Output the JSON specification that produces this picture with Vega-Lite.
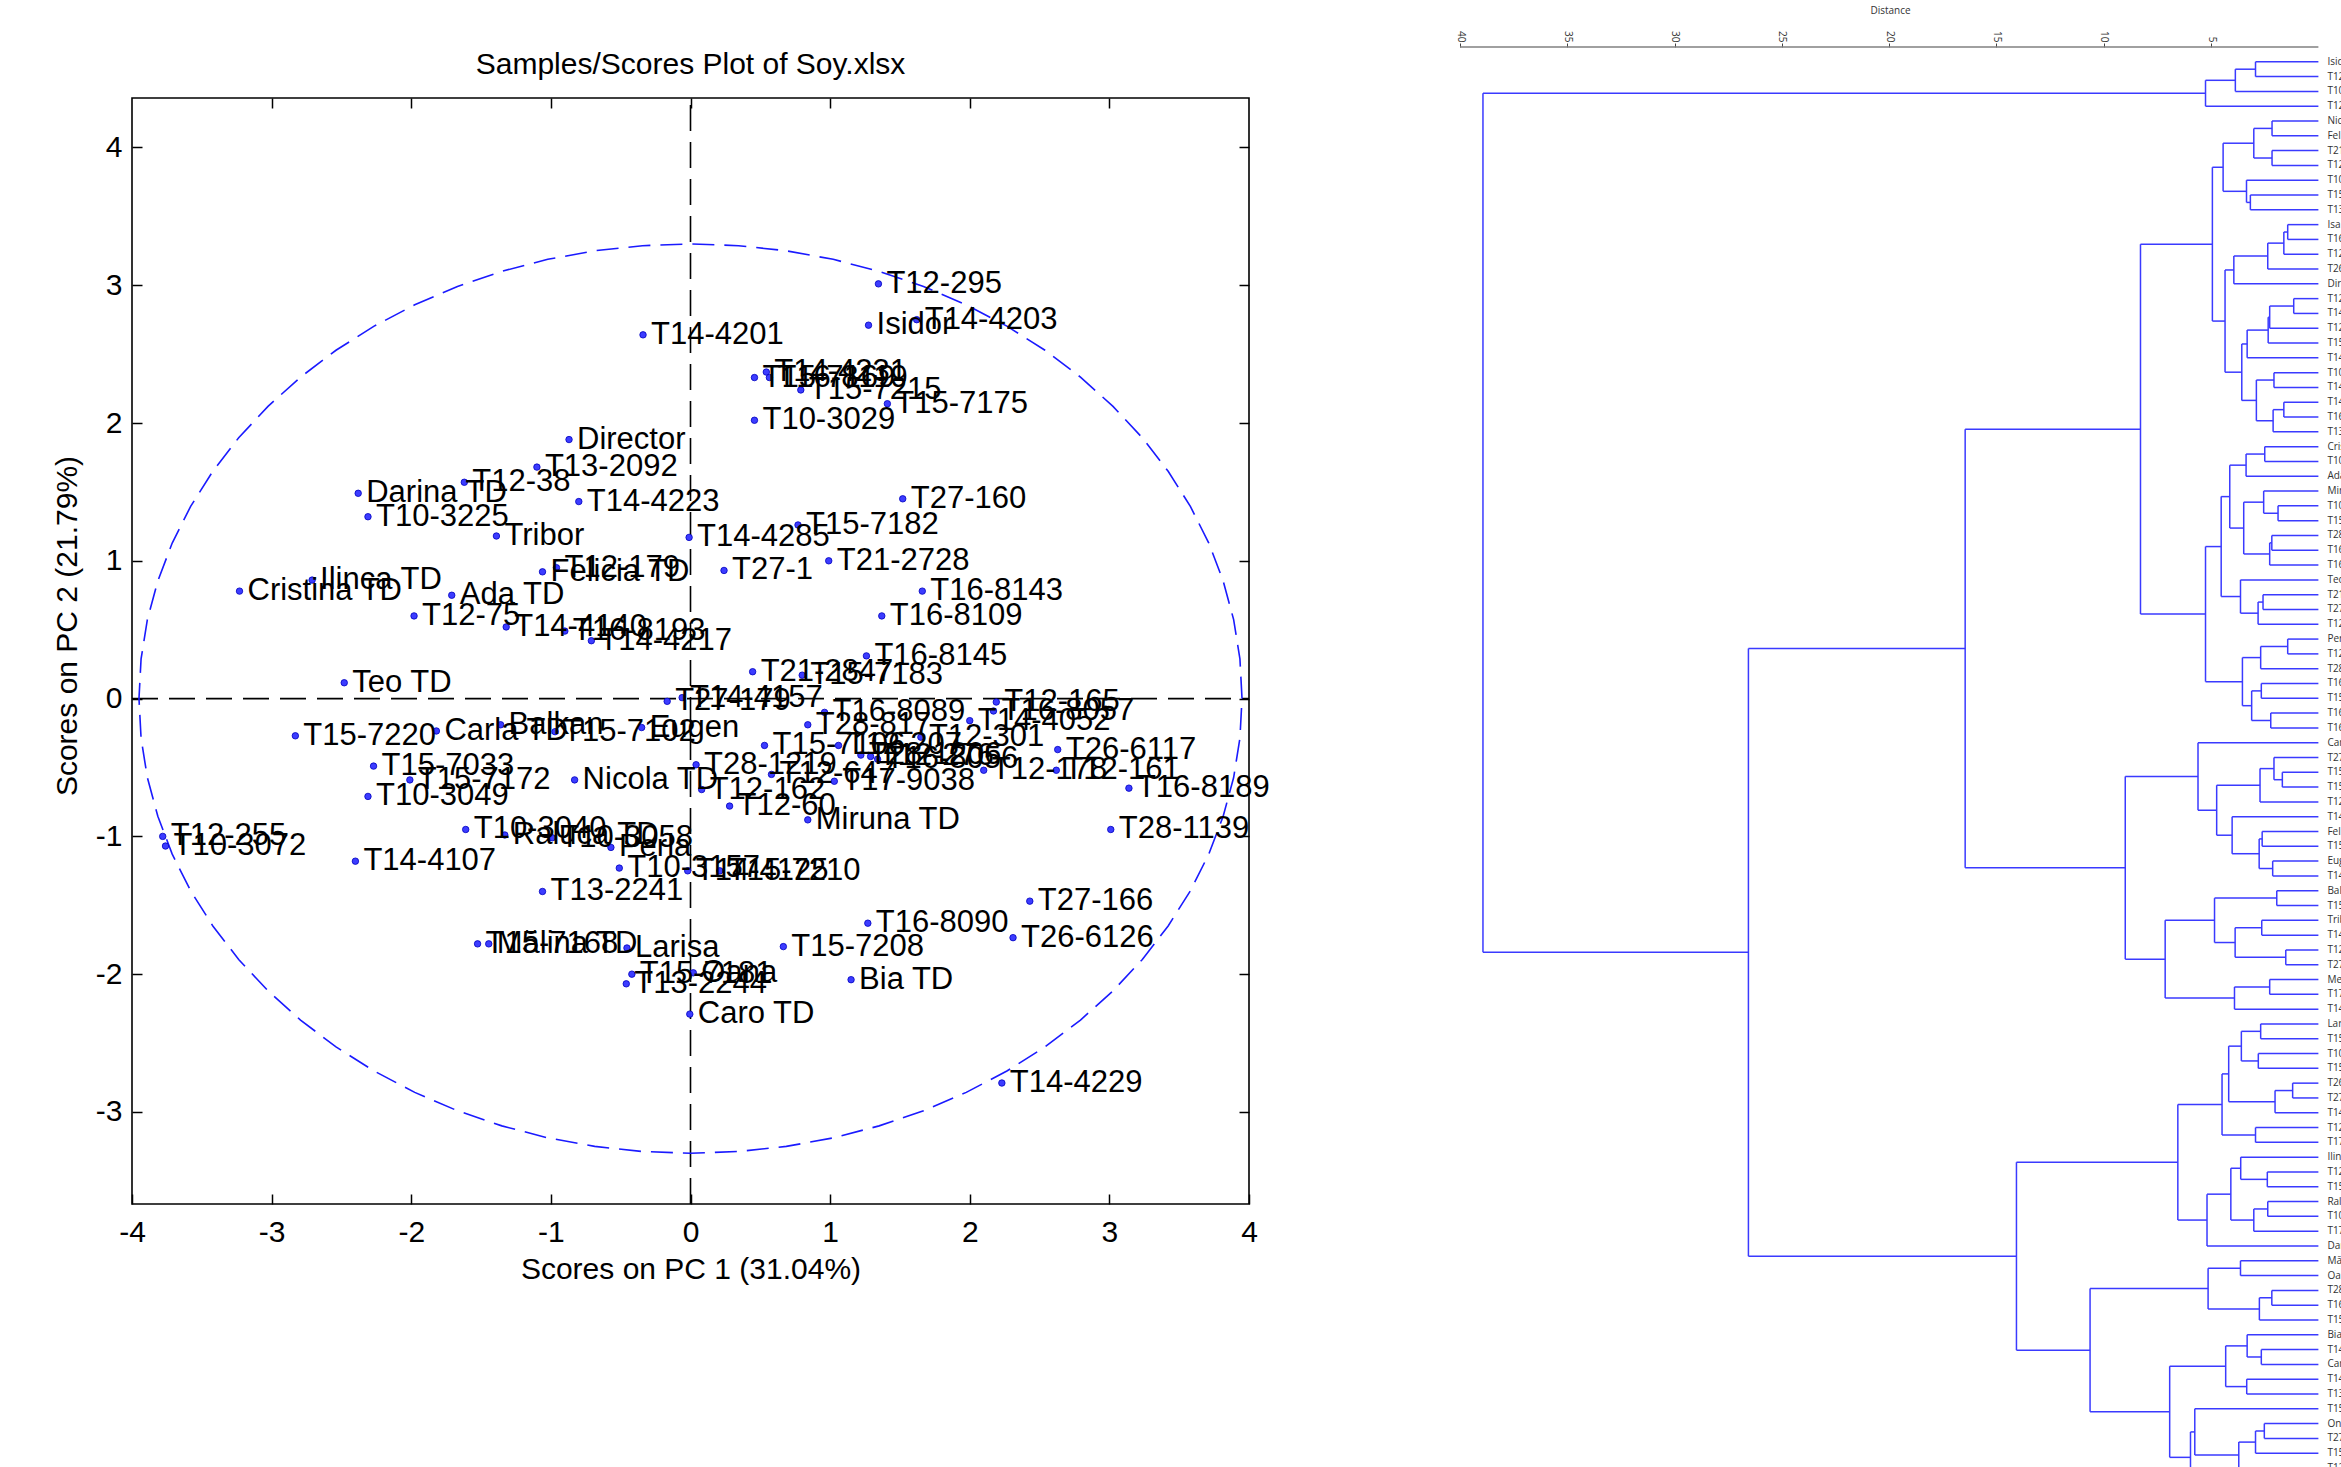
{
"$schema": "https://vega.github.io/schema/vega-lite/v6.json",
"padding": {"left": 52, "top": 5, "right": 0, "bottom": 0},
"bounds": "flush",
"spacing": 211,
"config": {"view": {"stroke": null}, "font": "Liberation Sans"},
"datasets": {
"pts": [
{"n":"T12-295","x":1.346,"y":3.01},{"n":"T14-4203","x":1.62,"y":2.75},{"n":"Isidor","x":1.275,"y":2.71},{"n":"T14-4201","x":-0.34,"y":2.64},
{"n":"T15-7169","x":0.458,"y":2.33},{"n":"T14-4231","x":0.543,"y":2.37},{"n":"T16-8119","x":0.565,"y":2.33},{"n":"T15-7215","x":0.79,"y":2.24},
{"n":"T15-7175","x":1.41,"y":2.14},{"n":"T10-3029","x":0.458,"y":2.02},{"n":"Director","x":-0.87,"y":1.88},{"n":"T12-38","x":-1.62,"y":1.57},
{"n":"T13-2092","x":-1.1,"y":1.68},{"n":"Darina TD","x":-2.38,"y":1.49},{"n":"T14-4223","x":-0.8,"y":1.43},{"n":"T10-3225","x":-2.31,"y":1.32},
{"n":"Tribor","x":-1.39,"y":1.18},{"n":"Ilinca TD","x":-2.71,"y":0.86},{"n":"Cristina TD","x":-3.23,"y":0.78},{"n":"Felicia TD","x":-1.06,"y":0.92},
{"n":"T12-179","x":-0.96,"y":0.95},{"n":"Ada TD","x":-1.71,"y":0.75},{"n":"T12-75","x":-1.98,"y":0.6},{"n":"T14-4140","x":-1.32,"y":0.52},
{"n":"T16-8193","x":-0.9,"y":0.49},{"n":"T14-4217","x":-0.71,"y":0.42},{"n":"Teo TD","x":-2.48,"y":0.115},{"n":"T27-160","x":1.52,"y":1.45},
{"n":"T15-7182","x":0.77,"y":1.26},{"n":"T14-4285","x":-0.01,"y":1.17},{"n":"T21-2728","x":0.99,"y":1.0},{"n":"T27-1","x":0.24,"y":0.93},
{"n":"T16-8143","x":1.66,"y":0.78},{"n":"T16-8109","x":1.37,"y":0.6},{"n":"T16-8145","x":1.26,"y":0.31},{"n":"T21-2847","x":0.445,"y":0.195},
{"n":"T15-7183","x":0.8,"y":0.17},{"n":"T27-179","x":-0.167,"y":-0.02},{"n":"T14-4157","x":-0.06,"y":0.007},{"n":"Eugen","x":-0.35,"y":-0.21},
{"n":"T16-8089","x":0.96,"y":-0.1},{"n":"T28-817","x":0.84,"y":-0.19},{"n":"T15-7106","x":0.53,"y":-0.34},{"n":"T12-207","x":1.06,"y":-0.34},
{"n":"T28-1206","x":1.22,"y":-0.41},{"n":"T12-276","x":1.29,"y":-0.42},{"n":"T16-8056","x":1.34,"y":-0.44},{"n":"T12-301","x":1.65,"y":-0.28},
{"n":"T14-4052","x":2.0,"y":-0.16},{"n":"T12-165","x":2.19,"y":-0.025},{"n":"T16-8057","x":2.17,"y":-0.09},{"n":"T26-6117","x":2.63,"y":-0.37},
{"n":"T12-178","x":2.1,"y":-0.52},{"n":"T12-161","x":2.62,"y":-0.52},{"n":"T28-1219","x":0.04,"y":-0.48},{"n":"T12-647","x":0.58,"y":-0.55},
{"n":"T17-9038","x":1.03,"y":-0.6},{"n":"T12-162","x":0.08,"y":-0.66},{"n":"T12-60","x":0.28,"y":-0.78},{"n":"Miruna TD","x":0.84,"y":-0.88},
{"n":"T28-1139","x":3.01,"y":-0.95},{"n":"T16-8189","x":3.14,"y":-0.65},{"n":"Nicola TD","x":-0.83,"y":-0.59},{"n":"T15-7220","x":-2.83,"y":-0.27},
{"n":"Carla TD","x":-1.82,"y":-0.235},{"n":"Balkan","x":-1.36,"y":-0.19},{"n":"T15-7102","x":-0.97,"y":-0.24},{"n":"T15-7033","x":-2.27,"y":-0.49},
{"n":"T15-7172","x":-2.01,"y":-0.59},{"n":"T10-3049","x":-2.31,"y":-0.71},{"n":"T12-255","x":-3.78,"y":-1.0},{"n":"T10-3072","x":-3.76,"y":-1.07},
{"n":"T14-4107","x":-2.4,"y":-1.18},{"n":"T10-3040","x":-1.61,"y":-0.95},{"n":"Raluca TD","x":-1.33,"y":-0.99},{"n":"T10-3058","x":-0.99,"y":-1.01},
{"n":"Perla","x":-0.57,"y":-1.08},{"n":"T10-3157","x":-0.51,"y":-1.23},{"n":"T14-4125","x":-0.02,"y":-1.25},{"n":"T15-7210","x":0.21,"y":-1.25},
{"n":"T13-2241","x":-1.06,"y":-1.4},{"n":"T15-7168","x":-1.525,"y":-1.78},{"n":"Mălina TD","x":-1.445,"y":-1.78},{"n":"Larisa","x":-0.455,"y":-1.81},
{"n":"T15-7181","x":-0.42,"y":-2.0},{"n":"Oana","x":0.02,"y":-1.99},{"n":"T13-2244","x":-0.46,"y":-2.07},{"n":"Caro TD","x":-0.005,"y":-2.29},
{"n":"Bia TD","x":1.15,"y":-2.04},{"n":"T15-7208","x":0.665,"y":-1.8},{"n":"T16-8090","x":1.27,"y":-1.63},{"n":"T27-166","x":2.43,"y":-1.47},
{"n":"T26-6126","x":2.31,"y":-1.735},{"n":"T14-4229","x":2.23,"y":-2.79}
],
"ell": [
{"o":0,"x":3.95,"y":0},{"o":1,"x":3.935,"y":0.288},{"o":2,"x":3.89,"y":0.573},{"o":3,"x":3.815,"y":0.854},{"o":4,"x":3.712,"y":1.129},{"o":5,"x":3.58,"y":1.395},
{"o":6,"x":3.421,"y":1.65},{"o":7,"x":3.236,"y":1.893},{"o":8,"x":3.026,"y":2.121},{"o":9,"x":2.793,"y":2.333},{"o":10,"x":2.539,"y":2.528},{"o":11,"x":2.266,"y":2.703},
{"o":12,"x":1.975,"y":2.858},{"o":13,"x":1.669,"y":2.991},{"o":14,"x":1.351,"y":3.101},{"o":15,"x":1.022,"y":3.188},{"o":16,"x":0.686,"y":3.25},{"o":17,"x":0.344,"y":3.287},
{"o":18,"x":0,"y":3.3},{"o":19,"x":-0.344,"y":3.287},{"o":20,"x":-0.686,"y":3.25},{"o":21,"x":-1.022,"y":3.188},{"o":22,"x":-1.351,"y":3.101},{"o":23,"x":-1.669,"y":2.991},
{"o":24,"x":-1.975,"y":2.858},{"o":25,"x":-2.266,"y":2.703},{"o":26,"x":-2.539,"y":2.528},{"o":27,"x":-2.793,"y":2.333},{"o":28,"x":-3.026,"y":2.121},{"o":29,"x":-3.236,"y":1.893},
{"o":30,"x":-3.421,"y":1.65},{"o":31,"x":-3.58,"y":1.395},{"o":32,"x":-3.712,"y":1.129},{"o":33,"x":-3.815,"y":0.854},{"o":34,"x":-3.89,"y":0.573},{"o":35,"x":-3.935,"y":0.288},
{"o":36,"x":-3.95,"y":0},{"o":37,"x":-3.935,"y":-0.288},{"o":38,"x":-3.89,"y":-0.573},{"o":39,"x":-3.815,"y":-0.854},{"o":40,"x":-3.712,"y":-1.129},{"o":41,"x":-3.58,"y":-1.395},
{"o":42,"x":-3.421,"y":-1.65},{"o":43,"x":-3.236,"y":-1.893},{"o":44,"x":-3.026,"y":-2.121},{"o":45,"x":-2.793,"y":-2.333},{"o":46,"x":-2.539,"y":-2.528},{"o":47,"x":-2.266,"y":-2.703},
{"o":48,"x":-1.975,"y":-2.858},{"o":49,"x":-1.669,"y":-2.991},{"o":50,"x":-1.351,"y":-3.101},{"o":51,"x":-1.022,"y":-3.188},{"o":52,"x":-0.686,"y":-3.25},{"o":53,"x":-0.344,"y":-3.287},
{"o":54,"x":0,"y":-3.3},{"o":55,"x":0.344,"y":-3.287},{"o":56,"x":0.686,"y":-3.25},{"o":57,"x":1.022,"y":-3.188},{"o":58,"x":1.351,"y":-3.101},{"o":59,"x":1.669,"y":-2.991},
{"o":60,"x":1.975,"y":-2.858},{"o":61,"x":2.266,"y":-2.703},{"o":62,"x":2.539,"y":-2.528},{"o":63,"x":2.793,"y":-2.333},{"o":64,"x":3.026,"y":-2.121},{"o":65,"x":3.236,"y":-1.893},
{"o":66,"x":3.421,"y":-1.65},{"o":67,"x":3.58,"y":-1.395},{"o":68,"x":3.712,"y":-1.129},{"o":69,"x":3.815,"y":-0.854},{"o":70,"x":3.89,"y":-0.573},{"o":71,"x":3.935,"y":-0.288},
{"o":72,"x":3.95,"y":0}
],
"nodes": [
{"h":2.93,"ya":1,"ha":0,"yb":2,"hb":0},{"h":3.87,"ya":1.5,"ha":2.93,"yb":3,"hb":0},{"h":5.26,"ya":2.25,"ha":3.87,"yb":4,"hb":0},
{"h":2.16,"ya":5,"ha":0,"yb":6,"hb":0},{"h":2.16,"ya":7,"ha":0,"yb":8,"hb":0},{"h":3.01,"ya":5.5,"ha":2.16,"yb":7.5,"hb":2.16},
{"h":3.17,"ya":10,"ha":0,"yb":11,"hb":0},{"h":3.35,"ya":9,"ha":0,"yb":10.5,"hb":3.17},{"h":4.44,"ya":6.5,"ha":3.01,"yb":9.75,"hb":3.35},
{"h":1.43,"ya":12,"ha":0,"yb":13,"hb":0},{"h":1.61,"ya":12.5,"ha":1.43,"yb":14,"hb":0},{"h":2.36,"ya":13.25,"ha":1.61,"yb":15,"hb":0},
{"h":3.94,"ya":14.125,"ha":2.36,"yb":16,"hb":0},{"h":1.15,"ya":17,"ha":0,"yb":18,"hb":0},{"h":2.27,"ya":17.5,"ha":1.15,"yb":19,"hb":0},
{"h":2.34,"ya":18.25,"ha":2.27,"yb":20,"hb":0},{"h":3.32,"ya":19.125,"ha":2.34,"yb":21,"hb":0},{"h":2.07,"ya":22,"ha":0,"yb":23,"hb":0},
{"h":1.61,"ya":24,"ha":0,"yb":25,"hb":0},{"h":2.11,"ya":24.5,"ha":1.61,"yb":26,"hb":0},{"h":2.89,"ya":22.5,"ha":2.07,"yb":25.25,"hb":2.11},
{"h":3.57,"ya":20.063,"ha":3.32,"yb":23.875,"hb":2.89},{"h":4.35,"ya":15.063,"ha":3.94,"yb":21.969,"hb":3.57},{"h":4.94,"ya":8.125,"ha":4.44,"yb":18.516,"hb":4.35},
{"h":2.5,"ya":27,"ha":0,"yb":28,"hb":0},{"h":3.37,"ya":27.5,"ha":2.5,"yb":29,"hb":0},{"h":1.88,"ya":31,"ha":0,"yb":32,"hb":0},
{"h":2.55,"ya":30,"ha":0,"yb":31.5,"hb":1.88},{"h":2.17,"ya":33,"ha":0,"yb":34,"hb":0},{"h":2.27,"ya":33.5,"ha":2.17,"yb":35,"hb":0},
{"h":3.48,"ya":30.75,"ha":2.55,"yb":34.25,"hb":2.27},{"h":4.13,"ya":28.25,"ha":3.37,"yb":32.5,"hb":3.48},{"h":2.58,"ya":37,"ha":0,"yb":38,"hb":0},
{"h":2.81,"ya":37.5,"ha":2.58,"yb":39,"hb":0},{"h":3.63,"ya":36,"ha":0,"yb":38.25,"hb":2.81},{"h":4.53,"ya":30.375,"ha":4.13,"yb":37.125,"hb":3.63},
{"h":1.43,"ya":40,"ha":0,"yb":41,"hb":0},{"h":2.69,"ya":40.5,"ha":1.43,"yb":42,"hb":0},{"h":2.66,"ya":43,"ha":0,"yb":44,"hb":0},
{"h":2.22,"ya":45,"ha":0,"yb":46,"hb":0},{"h":3.11,"ya":43.5,"ha":2.66,"yb":45.5,"hb":2.22},{"h":3.54,"ya":41.25,"ha":2.69,"yb":44.5,"hb":3.11},
{"h":5.26,"ya":33.75,"ha":4.53,"yb":42.875,"hb":3.54},{"h":8.29,"ya":13.32,"ha":4.94,"yb":38.313,"hb":5.26},
{"h":1.68,"ya":49,"ha":0,"yb":50,"hb":0},{"h":2.07,"ya":48,"ha":0,"yb":49.5,"hb":1.68},{"h":2.72,"ya":48.75,"ha":2.07,"yb":51,"hb":0},
{"h":2.62,"ya":53,"ha":0,"yb":54,"hb":0},{"h":2.13,"ya":55,"ha":0,"yb":56,"hb":0},{"h":2.76,"ya":53.5,"ha":2.62,"yb":55.5,"hb":2.13},
{"h":4.02,"ya":52,"ha":0,"yb":54.5,"hb":2.76},{"h":4.74,"ya":49.875,"ha":2.72,"yb":53.25,"hb":4.02},{"h":5.61,"ya":47,"ha":0,"yb":51.563,"hb":4.74},
{"h":1.94,"ya":57,"ha":0,"yb":58,"hb":0},{"h":2.64,"ya":59,"ha":0,"yb":60,"hb":0},{"h":1.52,"ya":61,"ha":0,"yb":62,"hb":0},
{"h":3.88,"ya":59.5,"ha":2.64,"yb":61.5,"hb":1.52},{"h":4.84,"ya":57.5,"ha":1.94,"yb":60.5,"hb":3.88},{"h":2.27,"ya":63,"ha":0,"yb":64,"hb":0},
{"h":3.91,"ya":63.5,"ha":2.27,"yb":65,"hb":0},{"h":7.14,"ya":59,"ha":4.84,"yb":64.25,"hb":3.91},{"h":9.0,"ya":49.281,"ha":5.61,"yb":61.625,"hb":7.14},
{"h":16.46,"ya":25.816,"ha":8.29,"yb":55.453,"hb":9.0},
{"h":2.69,"ya":66,"ha":0,"yb":67,"hb":0},{"h":2.8,"ya":68,"ha":0,"yb":69,"hb":0},{"h":3.59,"ya":66.5,"ha":2.69,"yb":68.5,"hb":2.8},
{"h":1.2,"ya":70,"ha":0,"yb":71,"hb":0},{"h":2.02,"ya":70.5,"ha":1.2,"yb":72,"hb":0},{"h":4.18,"ya":67.5,"ha":3.59,"yb":71.25,"hb":2.02},
{"h":2.93,"ya":73,"ha":0,"yb":74,"hb":0},{"h":4.49,"ya":69.375,"ha":4.18,"yb":73.5,"hb":2.93},{"h":2.38,"ya":76,"ha":0,"yb":77,"hb":0},
{"h":3.62,"ya":75,"ha":0,"yb":76.5,"hb":2.38},{"h":2.36,"ya":78,"ha":0,"yb":79,"hb":0},{"h":3.01,"ya":78.5,"ha":2.36,"yb":80,"hb":0},
{"h":4.08,"ya":75.75,"ha":3.62,"yb":79.25,"hb":3.01},{"h":5.19,"ya":77.5,"ha":4.08,"yb":81,"hb":0},{"h":6.55,"ya":71.438,"ha":4.49,"yb":79.25,"hb":5.19},
{"h":3.63,"ya":82,"ha":0,"yb":83,"hb":0},{"h":2.17,"ya":84,"ha":0,"yb":85,"hb":0},{"h":2.75,"ya":84.5,"ha":2.17,"yb":86,"hb":0},
{"h":5.14,"ya":82.5,"ha":3.63,"yb":85.25,"hb":2.75},{"h":2.66,"ya":88,"ha":0,"yb":89,"hb":0},{"h":3.32,"ya":87,"ha":0,"yb":88.5,"hb":2.66},
{"h":3.34,"ya":90,"ha":0,"yb":91,"hb":0},{"h":4.32,"ya":87.75,"ha":3.32,"yb":90.5,"hb":3.34},{"h":2.52,"ya":93,"ha":0,"yb":94,"hb":0},
{"h":2.93,"ya":93.5,"ha":2.52,"yb":95,"hb":0},{"h":3.71,"ya":94.25,"ha":2.93,"yb":96,"hb":0},{"h":5.76,"ya":92,"ha":0,"yb":95.125,"hb":3.71},
{"h":5.96,"ya":93.563,"ha":5.76,"yb":97,"hb":0},{"h":6.93,"ya":89.125,"ha":4.32,"yb":95.281,"hb":5.96},{"h":10.64,"ya":83.875,"ha":5.14,"yb":92.203,"hb":6.93},
{"h":14.07,"ya":75.344,"ha":6.55,"yb":88.039,"hb":10.64},{"h":26.56,"ya":40.635,"ha":16.46,"yb":81.691,"hb":14.07},
{"h":38.93,"ya":3.125,"ha":5.26,"yb":61.163,"hb":26.56}
],
"leaves": [
{"i":1,"n":"Isidor"},{"i":2,"n":"T12-295"},{"i":3,"n":"T10-3029"},{"i":4,"n":"T12-38"},{"i":5,"n":"Nicola TD"},{"i":6,"n":"Felicia TD"},
{"i":7,"n":"T21-2847"},{"i":8,"n":"T12-162"},{"i":9,"n":"T10-3157"},{"i":10,"n":"T15-7210"},{"i":11,"n":"T13-2241"},{"i":12,"n":"Isa TD"},
{"i":13,"n":"T16-8109"},{"i":14,"n":"T12-60"},{"i":15,"n":"T26-6117"},{"i":16,"n":"Director"},{"i":17,"n":"T12-165"},{"i":18,"n":"T14-4052"},
{"i":19,"n":"T12-301"},{"i":20,"n":"T15-7183"},{"i":21,"n":"T14-4157"},{"i":22,"n":"T10-3058"},{"i":23,"n":"T14-4125"},{"i":24,"n":"T14-4285"},
{"i":25,"n":"T16-8089"},{"i":26,"n":"T13-2092"},{"i":27,"n":"Cristina TD"},{"i":28,"n":"T10-3225"},{"i":29,"n":"Ada TD"},{"i":30,"n":"Miruna TD"},
{"i":31,"n":"T10-3040"},{"i":32,"n":"T15-7106"},{"i":33,"n":"T28-817"},{"i":34,"n":"T16-8143"},{"i":35,"n":"T16-8145"},{"i":36,"n":"Teo TD"},
{"i":37,"n":"T21-2728"},{"i":38,"n":"T27-1"},{"i":39,"n":"T12-75"},{"i":40,"n":"Perla"},{"i":41,"n":"T12-647"},{"i":42,"n":"T28-1206"},
{"i":43,"n":"T16-8056"},{"i":44,"n":"T15-7175"},{"i":45,"n":"T16-8119"},{"i":46,"n":"T16-8193"},{"i":47,"n":"Carla TD"},{"i":48,"n":"T27-179"},
{"i":49,"n":"T15-7102"},{"i":50,"n":"T15-7169"},{"i":51,"n":"T12-276"},{"i":52,"n":"T14-4140"},{"i":53,"n":"Felix"},{"i":54,"n":"T15-7172"},
{"i":55,"n":"Eugen"},{"i":56,"n":"T14-4217"},{"i":57,"n":"Balkan"},{"i":58,"n":"T15-7220"},{"i":59,"n":"Tribor"},{"i":60,"n":"T14-4223"},
{"i":61,"n":"T12-178"},{"i":62,"n":"T27-160"},{"i":63,"n":"Mercur"},{"i":64,"n":"T17-9038"},{"i":65,"n":"T14-4201"},{"i":66,"n":"Larisa"},
{"i":67,"n":"T15-7181"},{"i":68,"n":"T10-3049"},{"i":69,"n":"T15-7033"},{"i":70,"n":"T26-6126"},{"i":71,"n":"T27-166"},{"i":72,"n":"T14-4229"},
{"i":73,"n":"T12-161"},{"i":74,"n":"T17-9012"},{"i":75,"n":"Ilinca TD"},{"i":76,"n":"T12-207"},{"i":77,"n":"T15-7182"},{"i":78,"n":"Raluca TD"},
{"i":79,"n":"T10-3072"},{"i":80,"n":"T17-9045"},{"i":81,"n":"Darina TD"},{"i":82,"n":"Mălina TD"},{"i":83,"n":"Oana"},{"i":84,"n":"T28-1139"},
{"i":85,"n":"T16-8189"},{"i":86,"n":"T15-7208"},{"i":87,"n":"Bia TD"},{"i":88,"n":"T14-4107"},{"i":89,"n":"Caro TD"},{"i":90,"n":"T14-4203"},
{"i":91,"n":"T13-2244"},{"i":92,"n":"T15-7215"},{"i":93,"n":"Onix"},{"i":94,"n":"T27-172"},{"i":95,"n":"T15-7168"},{"i":96,"n":"T12-255"},
{"i":97,"n":"T28-1219"}
]
},
"hconcat": [
{
"width": 1117, "height": 1157,
"title": {"text": "Samples/Scores Plot of Soy.xlsx", "fontSize": 30, "fontWeight": "normal", "font": "Liberation Sans", "color": "black", "offset": -33, "anchor": "middle"},
"layer": [
{"data": {"values": [{}]},
 "mark": {"type": "rect", "fillOpacity": 0, "stroke": "black", "strokeWidth": 1.6},
 "encoding": {
  "x": {"datum": -4, "type": "quantitative", "scale": {"domain": [-4, 4], "nice": false, "zero": false},
        "axis": {"orient": "bottom", "title": "Scores on PC 1 (31.04%)", "values": [-4,-3,-2,-1,0,1,2,3,4], "grid": false, "domain": false,
                 "tickSize": -10, "tickColor": "black", "tickWidth": 1.5, "labelPadding": 23, "labelFontSize": 30, "labelFont": "Liberation Sans",
                 "labelColor": "black", "labelExpr": "'' + datum.value", "labelFlush": false, "labelOverlap": false,
                 "titleFontSize": 30, "titleFont": "Liberation Sans", "titleFontWeight": "normal", "titleColor": "black", "titlePadding": 7}},
  "x2": {"datum": 4},
  "y": {"datum": -3.668, "type": "quantitative", "scale": {"domain": [-3.668, 4.729], "nice": false, "zero": false},
        "axis": {"orient": "left", "title": "Scores on PC 2 (21.79%)", "values": [-3,-2,-1,0,1,2,3,4], "grid": false, "domain": false,
                 "tickSize": -10, "tickColor": "black", "tickWidth": 1.5, "labelPadding": 20, "labelFontSize": 30, "labelFont": "Liberation Sans",
                 "labelColor": "black", "labelExpr": "'' + datum.value", "labelFlush": false, "labelOverlap": false,
                 "titleFontSize": 30, "titleFont": "Liberation Sans", "titleFontWeight": "normal", "titleColor": "black", "titlePadding": 13}},
  "y2": {"datum": 4.359}
 }},
{"data": {"values": [{}]},
 "mark": {"type": "rule", "color": "black", "strokeWidth": 1.6, "strokeDash": [26, 11]},
 "encoding": {
  "x": {"datum": -4, "type": "quantitative", "scale": {"domain": [-4, 4], "nice": false, "zero": false},
        "axis": {"orient": "top", "offset": -51, "title": null, "values": [-3,-2,-1,0,1,2,3], "labels": false, "grid": false, "domain": false,
                 "tickSize": -10, "tickColor": "black", "tickWidth": 1.5}},
  "x2": {"datum": 4},
  "y": {"datum": 0, "type": "quantitative", "scale": {"domain": [-3.668, 4.729], "nice": false, "zero": false},
        "axis": {"orient": "right", "title": null, "values": [-3,-2,-1,0,1,2,3,4], "labels": false, "grid": false, "domain": false,
                 "tickSize": -10, "tickColor": "black", "tickWidth": 1.5}}
 }},
{"data": {"values": [{}]},
 "mark": {"type": "rule", "color": "black", "strokeWidth": 1.6, "strokeDash": [26, 11]},
 "encoding": {
  "x": {"datum": 0, "type": "quantitative", "scale": {"domain": [-4, 4], "nice": false, "zero": false}, "axis": null},
  "y": {"datum": -3.668, "type": "quantitative", "scale": {"domain": [-3.668, 4.729], "nice": false, "zero": false}, "axis": null},
  "y2": {"datum": 4.359}
 }},
{"data": {"name": "ell"},
 "mark": {"type": "line", "color": "#1a1aff", "strokeWidth": 1.6, "strokeDash": [22, 10]},
 "encoding": {
  "x": {"field": "x", "type": "quantitative", "scale": {"domain": [-4, 4], "nice": false, "zero": false}, "axis": null},
  "y": {"field": "y", "type": "quantitative", "scale": {"domain": [-3.668, 4.729], "nice": false, "zero": false}, "axis": null},
  "order": {"field": "o", "type": "quantitative"}
 }},
{"data": {"name": "pts"},
 "mark": {"type": "circle", "size": 42, "fill": "#3c3cff", "stroke": "#0000c0", "strokeWidth": 0.8, "opacity": 1},
 "encoding": {
  "x": {"field": "x", "type": "quantitative", "scale": {"domain": [-4, 4], "nice": false, "zero": false}, "axis": null},
  "y": {"field": "y", "type": "quantitative", "scale": {"domain": [-3.668, 4.729], "nice": false, "zero": false}, "axis": null}
 }},
{"data": {"name": "pts"},
 "mark": {"type": "text", "align": "left", "baseline": "middle", "dx": 8, "fontSize": 31, "font": "Liberation Sans", "color": "black"},
 "encoding": {
  "x": {"field": "x", "type": "quantitative", "scale": {"domain": [-4, 4], "nice": false, "zero": false}, "axis": null},
  "y": {"field": "y", "type": "quantitative", "scale": {"domain": [-3.668, 4.729], "nice": false, "zero": false}, "axis": null},
  "text": {"field": "n"}
 }}
],
"resolve": {"axis": {"x": "independent", "y": "independent"}}
},
{
"width": 882, "height": 1421,
"layer": [
{"data": {"values": [{}]},
 "mark": {"type": "rule", "color": "#808080", "strokeWidth": 1.5},
 "encoding": {
  "x": {"datum": 40, "type": "quantitative", "scale": {"domain": [-1.1, 40], "reverse": true, "nice": false, "zero": false},
        "axis": {"orient": "top", "values": [5,10,15,20,25,30,35,40], "title": "Distance", "titleFontSize": 10, "titleFont": "Open Sans",
                 "titleFontWeight": "normal", "titleColor": "#333333", "titlePadding": 15, "titleX": 430, "labelAngle": 90, "labelFontSize": 10,
                 "labelFont": "Open Sans", "labelColor": "#333333", "labelPadding": 1, "tickSize": 4, "tickColor": "#444444", "domain": false,
                 "grid": false, "labelExpr": "'' + datum.value", "labelFlush": false, "labelOverlap": false}},
  "x2": {"datum": 0},
  "y": {"datum": 0, "type": "quantitative", "scale": {"domain": [0, 96], "reverse": true, "nice": false, "zero": false}, "axis": null}
 }},
{"data": {"name": "nodes"},
 "mark": {"type": "rule", "clip": true, "color": "#3a3aff", "strokeWidth": 1.5},
 "encoding": {
  "x": {"field": "h", "type": "quantitative", "scale": {"domain": [-1.1, 40], "reverse": true, "nice": false, "zero": false}, "axis": null},
  "y": {"field": "ya", "type": "quantitative", "scale": {"domain": [0, 96], "reverse": true, "nice": false, "zero": false}, "axis": null},
  "y2": {"field": "yb"}
 }},
{"data": {"name": "nodes"},
 "mark": {"type": "rule", "clip": true, "color": "#3a3aff", "strokeWidth": 1.5},
 "encoding": {
  "x": {"field": "ha", "type": "quantitative", "scale": {"domain": [-1.1, 40], "reverse": true, "nice": false, "zero": false}, "axis": null},
  "x2": {"field": "h"},
  "y": {"field": "ya", "type": "quantitative", "scale": {"domain": [0, 96], "reverse": true, "nice": false, "zero": false}, "axis": null}
 }},
{"data": {"name": "nodes"},
 "mark": {"type": "rule", "clip": true, "color": "#3a3aff", "strokeWidth": 1.5},
 "encoding": {
  "x": {"field": "hb", "type": "quantitative", "scale": {"domain": [-1.1, 40], "reverse": true, "nice": false, "zero": false}, "axis": null},
  "x2": {"field": "h"},
  "y": {"field": "yb", "type": "quantitative", "scale": {"domain": [0, 96], "reverse": true, "nice": false, "zero": false}, "axis": null}
 }},
{"data": {"name": "leaves"},
 "mark": {"type": "text", "clip": true, "align": "left", "baseline": "middle", "dx": 9, "fontSize": 10, "font": "Open Sans", "color": "#333333"},
 "encoding": {
  "x": {"datum": 0, "type": "quantitative", "scale": {"domain": [-1.1, 40], "reverse": true, "nice": false, "zero": false}, "axis": null},
  "y": {"field": "i", "type": "quantitative", "scale": {"domain": [0, 96], "reverse": true, "nice": false, "zero": false}, "axis": null},
  "text": {"field": "n"}
 }}
],
"resolve": {"axis": {"x": "independent", "y": "independent"}}
}
]
}
